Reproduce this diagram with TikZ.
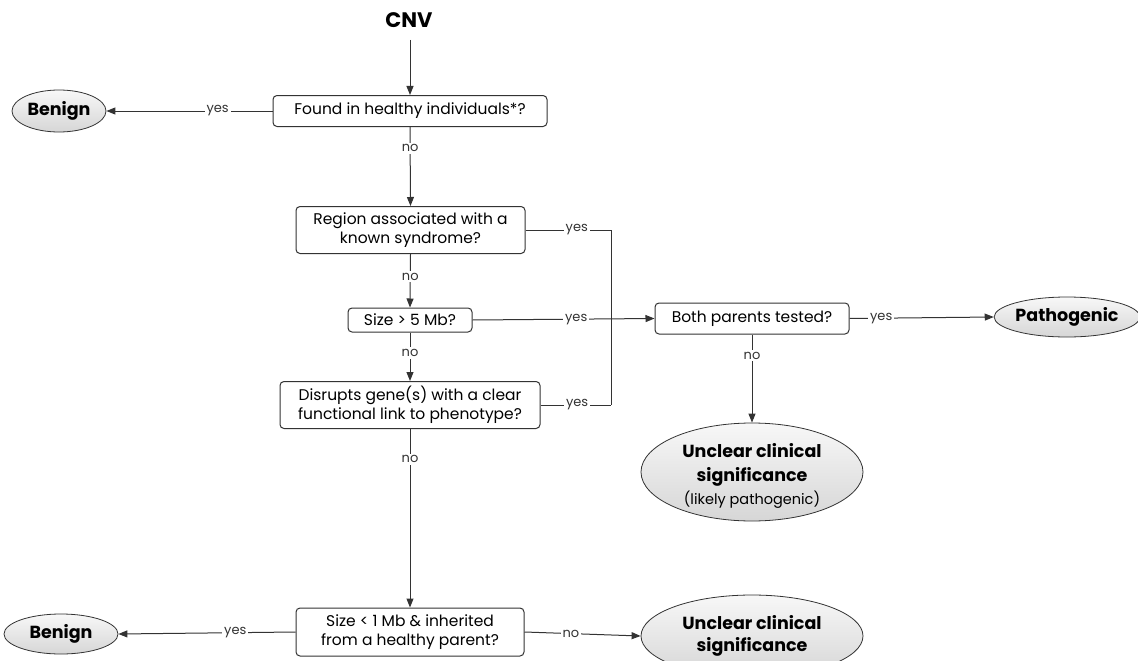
\documentclass[tikz,border=0pt]{standalone}
\usepackage{fontspec}
\setmainfont{Poppins}
\usetikzlibrary{shapes.geometric,arrows.meta}
\definecolor{ln}{HTML}{333333}
\tikzset{
  box/.style={draw=ln, line width=1pt, rounded corners=4pt, fill=white, inner sep=0pt, align=center, font=\fontsize{15.5}{19.5}\selectfont},
  term/.style={ellipse, draw=ln, line width=0.8pt, top color=gray!6, bottom color=gray!32, inner sep=0pt, align=center, font=\bfseries\fontsize{17.5}{22}\selectfont},
  conn/.style={draw=ln, line width=1pt},
  arr/.style={conn, -{Triangle[length=9pt,width=7pt]}},
  lab/.style={fill=white, inner sep=2pt, font=\fontsize{13}{15}\selectfont, text=ln}
}
\begin{document}
\begin{tikzpicture}[x=1pt,y=-1pt]
\useasboundingbox (0,0) rectangle (1138,661);
\node[font=\bfseries\fontsize{21}{24}\selectfont] (cnv) at (409,20) {CNV};
\node[box, minimum width=274pt, minimum height=31pt] (b1) at (410,111) {Found in healthy individuals*?};
\node[term, minimum width=94pt, minimum height=42pt] (ben1) at (59,111) {Benign};
\node[box, minimum width=229pt, minimum height=47pt] (b2) at (410.5,230) {Region associated with a\\known syndrome?};
\node[box, minimum width=124pt, minimum height=24pt] (b3) at (410,320) {Size > 5 Mb?};
\node[box, minimum width=260pt, minimum height=47pt] (b4) at (410,405) {Disrupts gene(s) with a clear\\functional link to phenotype?};
\node[box, minimum width=194pt, minimum height=31pt] (b5) at (752,318.5) {Both parents tested?};
\node[term, minimum width=142pt, minimum height=40pt] (path) at (1067,317) {Pathogenic};
\node[term, minimum width=222pt, minimum height=98pt] (unc1) at (752,472) {};
\node[font=\bfseries\fontsize{17.5}{24}\selectfont, align=center] (unc1t) at (752,465) {Unclear clinical\\significance};
\node[font=\fontsize{14.5}{17}\selectfont] (unc1s) at (752,500) {(likely pathogenic)};
\node[box, minimum width=228pt, minimum height=48pt] (b6) at (410,632) {Size < 1 Mb \& inherited\\from a healthy parent?};
\node[term, minimum width=114pt, minimum height=40pt] (ben2) at (61,634) {Benign};
\node[term, minimum width=222pt, minimum height=82pt] (unc2) at (752,636) {Unclear clinical\\significance};
\coordinate (j1) at (611,230);
\coordinate (j3) at (611,405);
% connectors
\draw[arr] (410,40) -- (b1.north);
\draw[arr] (b1.west) -- node[lab, pos=0.33] {yes} (ben1.east);
\draw[arr] (b1.south) -- node[lab, pos=0.27] {no} (b2.north);
\draw[conn] (b2.east) -- node[lab, pos=0.6] {yes} (j1) -- (j3);
\draw[conn] (b4.east) -- node[lab, pos=0.52] {yes} (j3);
\draw[arr] (b2.south) -- node[lab, pos=0.42] {no} (b3.north);
\draw[arr] (b3.east) -- node[lab, pos=0.57] {yes} (b5.west);
\draw[arr] (b3.south) -- node[lab, pos=0.42] {no} (b4.north);
\draw[arr] (b4.south) -- node[lab, pos=0.17] {no} (b6.north);
\draw[arr] (b5.east) -- node[lab, pos=0.22] {yes} (path.west);
\draw[arr] (b5.south) -- node[lab, pos=0.24] {no} (unc1.north);
\draw[arr] (b6.west) -- node[lab, pos=0.34] {yes} (ben2.east);
\draw[arr] (b6.east) -- node[lab, pos=0.4] {no} (unc2.west);
\end{tikzpicture}
\end{document}
